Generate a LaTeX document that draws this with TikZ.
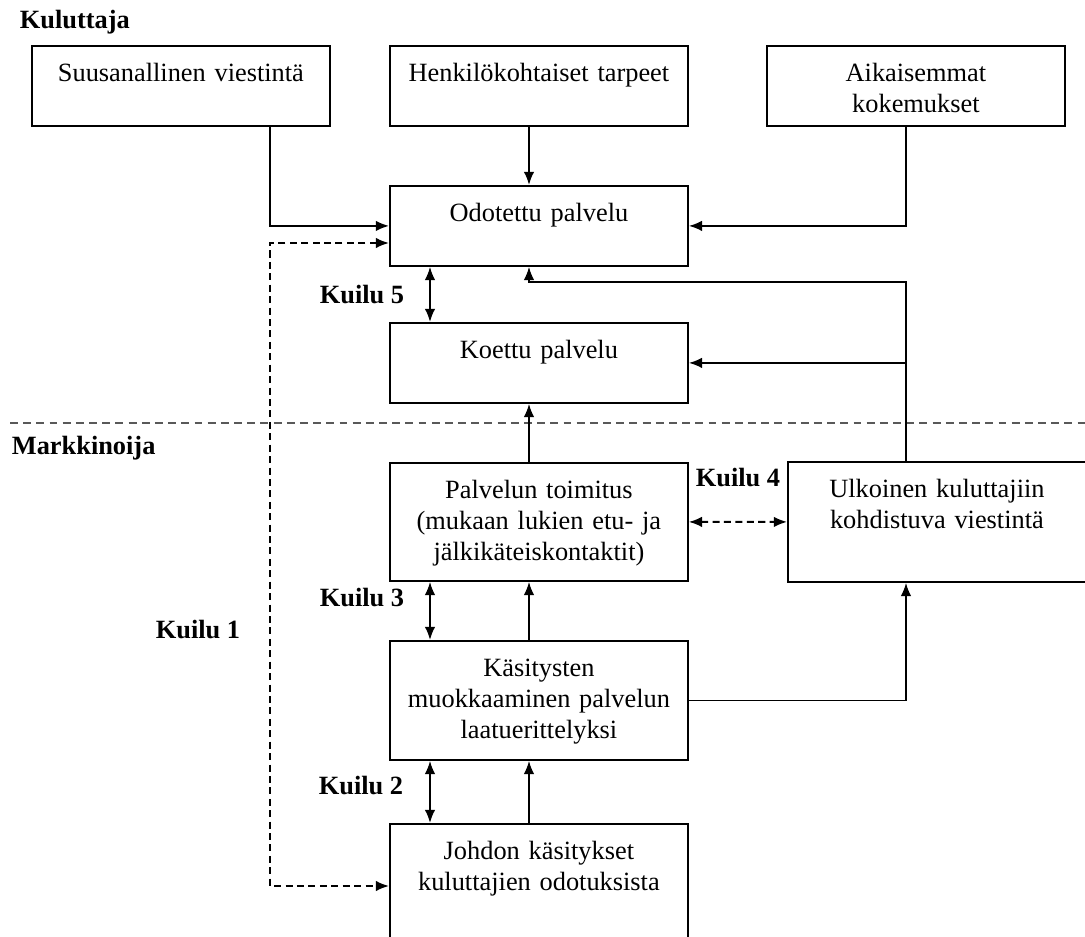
\documentclass[tikz,border=0pt]{standalone}
\usepackage{fontspec}
\setmainfont{Liberation Serif}
\usetikzlibrary{arrows.meta}

\begin{document}
\begin{tikzpicture}[x=0.2mm, y=-0.2mm, font=\fontsize{15pt}{17.5pt}\selectfont,
  line width=1.05pt, >={Latex[length=7.5pt,width=6pt]},
  box/.style={draw, anchor=north west, text width=59.6mm, align=center,
    inner sep=0pt, text height=7.2mm, text depth=#1},
  box/.default=8.8mm,
  gap/.style={dash pattern=on 4pt off 2.5pt},
  lbl/.style={font=\fontsize{15pt}{17.5pt}\selectfont\bfseries, inner sep=0pt}]
  \useasboundingbox (0,0) rectangle (1085,937);
  \node[lbl, anchor=west] (kul) at (19,22) {Kuluttaja};
  \node[lbl, anchor=west] (mar) at (11,448) {Markkinoija};
  \draw[gap, dash pattern=on 4.5pt off 3pt, black!65] (10,423) -- (1085,423);

  \node[box] (suus) at (31,45) {Suusanallinen viestintä};
  \node[box] (henk) at (389,45) {Henkilökohtaiset tarpeet};
  \node[box] (aik) at (766,45) {Aikaisemmat\\kokemukset};
  \node[box] (odo) at (389,185) {Odotettu palvelu};
  \node[box] (koe) at (389,322) {Koettu palvelu};
  \node[box=16.4mm] (pal) at (389,462) {Palvelun toimitus\\(mukaan lukien etu- ja\\jälkikäteiskontaktit)};
  \node[box=16.8mm] (ulk) at (787,461) {Ulkoinen kuluttajiin\\kohdistuva viestintä};
  \node[box=16.6mm] (kas) at (389,640) {Käsitysten\\muokkaaminen palvelun\\laatuerittelyksi};
  \node[box=18.2mm] (joh) at (389,823) {Johdon käsitykset\\kuluttajien odotuksista};

  \foreach \n/\x/\y in {5/362/295, 4/738/478, 3/362/598, 2/361/786, 1/198/630}
    \node[lbl] (k\n) at (\x,\y) {Kuilu \n};

  \coordinate (gx) at (430,0);
  \coordinate (mx) at (529,0);
  \coordinate (rc) at (906,282);
  \coordinate (d1) at (270,243);
  \coordinate (d2) at (270,886);

  \draw[->] (suus.south -| d1) |- (odo.west);
  \draw[->] (henk.south -| mx) -- (odo.north -| mx);
  \draw[->] (aik.south -| rc) |- (odo.east);
  \draw[<->] (odo.south -| gx) -- (koe.north -| gx);
  \draw[->] (ulk.north -| rc) -- (rc) -| (odo.south -| mx);
  \draw[->] (koe.east -| rc) -- (koe.east);
  \draw[->] (pal.north -| mx) -- (koe.south -| mx);
  \draw[gap, <->] (pal.east) -- (ulk.west);
  \draw[<->] (pal.south -| gx) -- (kas.north -| gx);
  \draw[->] (kas.north -| mx) -- (pal.south -| mx);
  \draw[->] (kas.east) -| (ulk.south -| rc);
  \draw[<->] (kas.south -| gx) -- (joh.north -| gx);
  \draw[->] (joh.north -| mx) -- (kas.south -| mx);
  \draw[gap, <->] (odo.west |- d1) -- (d1) -- (d2) -- (joh.west |- d2);
\end{tikzpicture}
\end{document}
